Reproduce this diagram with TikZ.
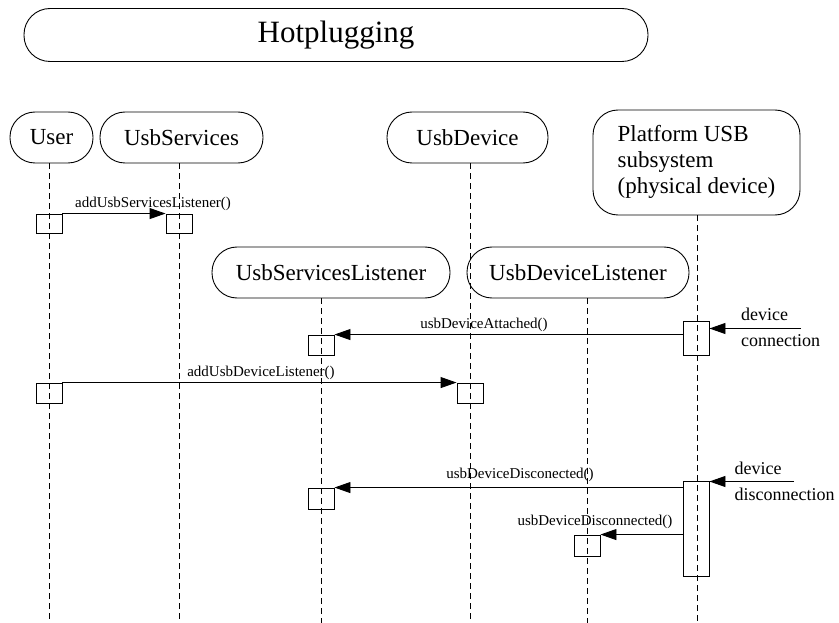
\documentclass[tikz,border=0pt]{standalone}
\usepackage{fontspec}
\setmainfont{Liberation Serif}
\usetikzlibrary{arrows.meta}
\begin{document}
\begin{tikzpicture}[x=1pt,y=-1pt,
  head/.style={draw, line width=0.9pt, rounded corners=25pt, inner sep=0pt,
    font=\fontsize{23}{26}\selectfont},
  titlebox/.style={draw, line width=0.9pt, rounded corners=26pt, inner sep=0pt,
    minimum width=624pt, minimum height=53pt, font=\fontsize{31}{34}\selectfont},
  act/.style={draw, line width=0.9pt, minimum width=26pt, inner sep=0pt},
  life/.style={line width=0.7pt, dash pattern=on 6pt off 4pt},
  msg/.style={line width=0.9pt, -{Triangle[length=16pt,width=11pt]}},
  mlabel/.style={font=\fontsize{15}{17}\selectfont, inner sep=0pt},
  ext/.style={font=\fontsize{18}{20}\selectfont, inner sep=0pt, anchor=base west}]
\useasboundingbox (0,0) rectangle (839,623);

% title
\node[titlebox] (title) at (336,35) {\raisebox{-5pt}{Hotplugging}};

% lifeline heads
\node[head, minimum width=83pt, minimum height=51pt] (user) at (51.5,137.5) {User};
\node[head, minimum width=163pt, minimum height=51pt] (services) at (181.5,137.5) {UsbServices};
\node[head, minimum width=161pt, minimum height=51pt] (device) at (467.5,137.5) {UsbDevice};
\node[head, minimum width=207pt, minimum height=105pt] (platform) at (696.5,162.5)
  {\raisebox{-4pt}{\begin{tabular}{@{}l@{}}Platform USB\\subsystem\\(physical device)\end{tabular}}};
\node[head, minimum width=238pt, minimum height=51pt] (slistener) at (331,272.5) {UsbServicesListener};
\node[head, minimum width=222pt, minimum height=51pt] (dlistener) at (578,272.5) {UsbDeviceListener};

% lifeline ends
\coordinate (userEnd) at (49,623);
\coordinate (servicesEnd) at (179,623);
\coordinate (deviceEnd) at (470,623);
\coordinate (platformEnd) at (697,623);
\coordinate (slEnd) at (321,623);
\coordinate (dlEnd) at (587,623);

\draw[life] (user.south -| userEnd) -- (userEnd);
\draw[life] (services.south -| servicesEnd) -- (servicesEnd);
\draw[life] (device.south -| deviceEnd) -- (deviceEnd);
\draw[life] (platform.south -| platformEnd) -- (platformEnd);
\draw[life] (slistener.south -| slEnd) -- (slEnd);
\draw[life] (dlistener.south -| dlEnd) -- (dlEnd);

% activation boxes
\node[act, minimum height=19pt] (a1) at (49,223.5) {};
\node[act, minimum height=19pt] (b1) at (179,223.5) {};
\node[act, minimum height=34pt] (c2) at (696,338.5) {};
\node[act, minimum height=20.5pt] (d2) at (321,345.25) {};
\node[act, minimum height=20pt] (a3) at (49,393) {};
\node[act, minimum height=20pt] (b3) at (470,393) {};
\node[act, minimum height=94.5pt] (c4) at (696,528.75) {};
\node[act, minimum height=21pt] (d4) at (321,498.5) {};
\node[act, minimum height=21pt] (e5) at (587,545.5) {};

% messages
\draw[msg] (a1.north east) -- (b1.north west);
\node[mlabel] (l1) at (153,204) {addUsbServicesListener()};

\coordinate (ext1) at (801,328.5);
\draw[msg] (ext1) -- (ext1 -| c2.east);
\node[ext] (x1a) at (741,320) {device};
\node[ext] (x1b) at (741,346) {connection};

\draw[msg] (c2.west |- d2.north) -- (d2.north east);
\node[mlabel] (l2) at (484,325) {usbDeviceAttached()};

\draw[msg] (a3.north east) -- (b3.north west);
\node[mlabel] (l3) at (261,373) {addUsbDeviceListener()};

\coordinate (ext2) at (794,481.5);
\draw[msg] (ext2) -- (ext2 -| c4.east);
\node[ext] (x2a) at (734.5,474) {device};
\node[ext] (x2b) at (734.5,500) {disconnection};

\draw[msg] (c4.west |- d4.north) -- (d4.north east);
\node[mlabel] (l4) at (520,475) {usbDeviceDisconected()};

\draw[msg] (c4.west |- e5.north) -- (e5.north east);
\node[mlabel] (l5) at (595,522) {usbDeviceDisconnected()};
\end{tikzpicture}
\end{document}
